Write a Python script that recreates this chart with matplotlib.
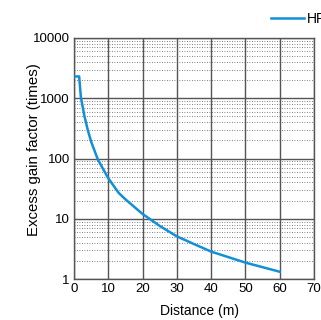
import matplotlib
matplotlib.use("Agg")
import matplotlib.pyplot as plt
from matplotlib.ticker import LogLocator, NullFormatter, FixedLocator

# data
distance = [0, 1.5, 2, 3, 4, 5, 7, 10, 13, 15, 20, 25, 30, 35, 40, 50, 60]
gain = [2300, 2300, 1050, 520, 300, 190, 95, 47, 27, 21, 12, 7.6, 5.1, 3.8, 2.85, 1.87, 1.32]
series_name = "HP100"
x_ticks = [0, 10, 20, 30, 40, 50, 60, 70]
y_ticks = [1, 10, 100, 1000, 10000]
y_tick_labels = ["1", "10", "100", "1000", "10000"]

plt.rcParams['font.family'] = ['Liberation Sans', 'DejaVu Sans']

fig = plt.figure(figsize=(3.21, 3.2), dpi=100)
ax = fig.add_axes([74 / 321, 1 - 279 / 320, 240 / 321, 241 / 320])

ax.plot(distance, gain, color='#128fd6', lw=1.8, label=series_name, zorder=3)

ax.set_yscale('log')
ax.set_xlim(0, 70)
ax.set_ylim(1, 10000)
ax.xaxis.set_major_locator(FixedLocator(x_ticks))
ax.yaxis.set_major_locator(FixedLocator(y_ticks))
ax.set_yticklabels(y_tick_labels)
ax.yaxis.set_minor_locator(LogLocator(base=10, subs=range(2, 10)))
ax.yaxis.set_minor_formatter(NullFormatter())

# grid: solid major, dotted minor
ax.grid(which='major', axis='both', color='#555555', lw=1.0, ls='-')
ax.grid(which='minor', axis='y', color='#555555', lw=0.6, ls=(0, (1, 2)))
ax.tick_params(which='both', length=0, labelsize=9.5, pad=3)
for s in ax.spines.values():
    s.set_color('#555555')
    s.set_linewidth(1.0)

ax.set_xlabel("Distance (m)", fontsize=10)
ax.xaxis.set_label_coords(0.525, -0.104)
ax.set_ylabel("Excess gain factor (times)", fontsize=10.8)
ax.yaxis.set_label_coords(-0.138, 0.539)

leg = fig.legend(loc='center left', bbox_to_anchor=(265 / 321, 1 - 19 / 320),
                 frameon=False, fontsize=10, handlelength=2.4,
                 handletextpad=0.2, borderaxespad=0)

fig.savefig("out.png", dpi=100)
